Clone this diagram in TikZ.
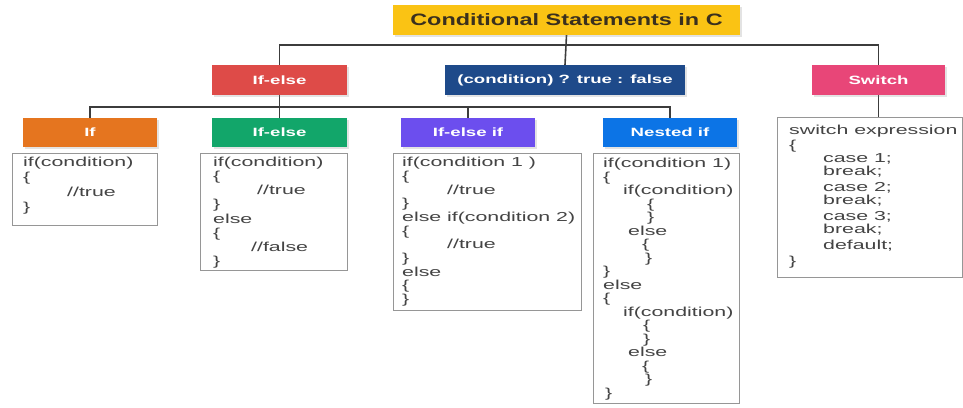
\documentclass[tikz,border=0pt]{standalone}
\usepackage{fontspec}
\setmainfont{Liberation Sans}
\newfontfamily\codefont{Liberation Sans}[FakeStretch=1.64]
\newfontfamily\labfont{Liberation Sans}[FakeStretch=1.55]
\newfontfamily\titfont{Liberation Sans}[FakeStretch=1.42]
\usetikzlibrary{shadows,backgrounds}
\definecolor{titleyellow}{RGB}{250,195,20}
\definecolor{titletext}{RGB}{58,48,30}
\definecolor{redbox}{RGB}{222,75,72}
\definecolor{ternblue}{RGB}{30,74,138}
\definecolor{switchpink}{RGB}{232,70,120}
\definecolor{iforange}{RGB}{229,117,31}
\definecolor{elsegreen}{RGB}{18,166,106}
\definecolor{elifpurple}{RGB}{108,78,238}
\definecolor{nestblue}{RGB}{12,116,230}
\definecolor{codegray}{RGB}{150,150,150}
\definecolor{codetxt}{RGB}{68,68,68}
\definecolor{linegray}{RGB}{60,60,60}
\tikzset{
  lab/.style={rectangle, inner sep=0pt, text=white,
    font=\labfont\bfseries\fontsize{12}{14}\selectfont,
    drop shadow={shadow xshift=1.5pt, shadow yshift=-2pt, opacity=0.22}},
  codebox/.style={rectangle, draw=codegray, line width=1pt, fill=white,
    inner sep=0pt, anchor=north west},
  codetext/.style={anchor=north west, inner sep=0pt, align=left, text=codetxt},
  conn/.style={draw=linegray, line width=1.6pt}
}
\begin{document}
\begin{tikzpicture}[x=1pt,y=-1pt]
\useasboundingbox (0,0) rectangle (963,407);
% title
\node[rectangle, inner sep=0pt, fill=titleyellow, text=titletext,
  minimum width=347pt, minimum height=30pt,
  font=\titfont\bfseries\fontsize{16.5}{18}\selectfont,
  drop shadow={shadow xshift=1.5pt, shadow yshift=-2pt, opacity=0.22}]
  (title) at (566.5,20) {Conditional Statements in C};
% first level
\node[lab, fill=redbox, minimum width=135pt, minimum height=30pt] (red) at (279.5,80) {If-else};
\node[lab, fill=ternblue, minimum width=240pt, minimum height=30pt] (tern) at (565,80) {(condition) ? true : false};
\node[lab, fill=switchpink, minimum width=133pt, minimum height=30pt] (switch) at (878.5,80) {Switch};
% second level
\node[lab, fill=iforange, minimum width=134pt, minimum height=29pt] (ifb) at (90,132.5) {If};
\node[lab, fill=elsegreen, minimum width=135pt, minimum height=29pt] (green) at (279.5,132.5) {If-else};
\node[lab, fill=elifpurple, minimum width=134pt, minimum height=29pt] (purple) at (468,132.5) {If-else if};
\node[lab, fill=nestblue, minimum width=134pt, minimum height=29pt] (nested) at (670,132.5) {Nested if};
% code boxes
\node[codebox, minimum width=145pt, minimum height=72pt] (c1) at (12,153) {};
\node[codebox, minimum width=147pt, minimum height=117pt] (c2) at (200,153) {};
\node[codebox, minimum width=188pt, minimum height=157pt] (c3) at (393,153) {};
\node[codebox, minimum width=146pt, minimum height=250pt] (c4) at (593,153) {};
\node[codebox, minimum width=185pt, minimum height=160pt] (c5) at (777,117) {};
% code texts
\node[codetext, font=\codefont\fontsize{13}{15}\selectfont] (c1t) at ([shift={(11,4)}]c1.north west)
 {if(condition)\\ \{\\ \hspace*{44pt}//true\\ \}};
\node[codetext, font=\codefont\fontsize{13}{14.1}\selectfont] (c2t) at ([shift={(13,4)}]c2.north west)
 {if(condition)\\ \{\\ \hspace*{44pt}//true\\ \}\\ else\\ \{\\ \hspace*{38pt}//false\\ \}};
\node[codetext, font=\codefont\fontsize{13}{13.7}\selectfont] (c3t) at ([shift={(9,4)}]c3.north west)
 {if(condition 1 )\\ \{\\ \hspace*{45pt}//true\\ \}\\ else if(condition 2)\\ \{\\ \hspace*{45pt}//true\\ \}\\ else\\ \{\\ \}};
\node[codetext, font=\codefont\fontsize{13}{13.5}\selectfont] (c4t) at ([shift={(10,5)}]c4.north west)
 {if(condition 1)\\ \{\\ \hspace*{20pt}if(condition)\\ \hspace*{44pt}\{\\ \hspace*{44pt}\}\\ \hspace*{25pt}else\\ \hspace*{39pt}\{\\ \hspace*{42pt}\}\\ \}\\ else\\ \{\\ \hspace*{20pt}if(condition)\\ \hspace*{40pt}\{\\ \hspace*{40pt}\}\\ \hspace*{25pt}else\\ \hspace*{39pt}\{\\ \hspace*{42pt}\}\\ \hspace*{2pt}\}};
\node[codetext, font=\codefont\fontsize{13}{13.5}\selectfont] (c5t) at ([shift={(12,8)}]c5.north west)
 {switch expression\\[1.5pt] \{\\[-1pt] \hspace*{34pt}case 1;\\ \hspace*{34pt}break;\\[2pt] \hspace*{34pt}case 2;\\ \hspace*{34pt}break;\\[2pt] \hspace*{34pt}case 3;\\ \hspace*{34pt}break;\\[2pt] \hspace*{34pt}default;\\[3pt] \}};
% connectors
\begin{scope}[on background layer]
\coordinate (bus1) at (566,45);
\coordinate (bus2) at (280,107);
\draw[conn] (title.south) -- (tern.north);
\draw[conn] (red.north) |- (bus1) -| (switch.north);
\draw[conn] (ifb.north) |- (bus2) -| (nested.north);
\draw[conn] (red.south) -- (green.north);
\draw[conn] (purple.north) -- (purple.north |- bus2);
\draw[conn] (switch.south) -- (c5.north -| switch.south);
\end{scope}
\end{tikzpicture}
\end{document}
